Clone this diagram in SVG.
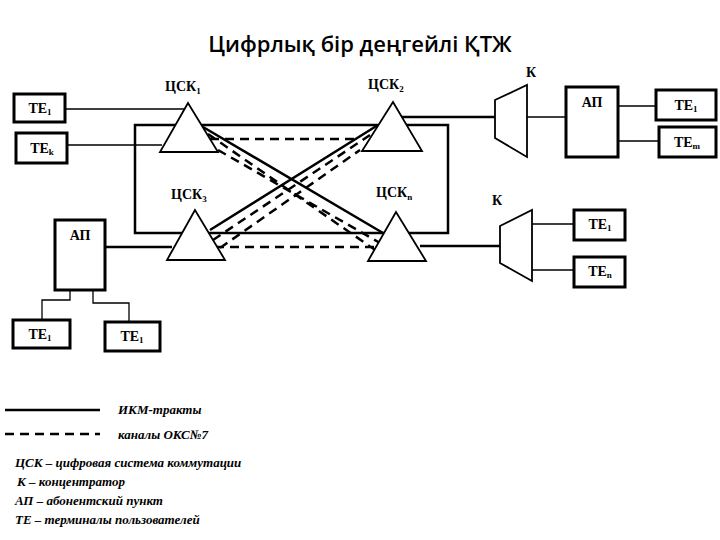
<svg xmlns="http://www.w3.org/2000/svg" width="720" height="540" viewBox="0 0 720 540">
<style>
.b{fill:#fff;stroke:#000;stroke-width:3}
.t{font-family:'Liberation Serif',serif;font-weight:bold;font-size:14px}
.s{font-size:9px}
.th{stroke:#000;stroke-width:1.3;fill:none}
.tk{stroke:#000;stroke-width:2.5;fill:none}
.d{stroke:#000;stroke-width:2.5;fill:none;stroke-dasharray:9,6}
.tri{fill:#fff;stroke:#000;stroke-width:1.8}
.lg{font-family:'Liberation Serif',serif;font-weight:bold;font-style:italic;font-size:13px}
</style>
<rect width="720" height="540" fill="#fff"/>
<text x="360" y="52" text-anchor="middle" font-family="'Open Sans',sans-serif" font-size="22" font-weight="600">Цифрлық бір деңгейлі ҚТЖ</text>
<g id="connectors">
<rect x="135" y="125" width="313" height="108" class="tk"/>
<path class="th" d="M65,109H185M67,145H162M527,117H566M618,106H656M618,141H659M532,224H574M532,270H574M70,290V300H42V320M93,290V303H129V322"/>
<path class="tk" d="M400,117H495M420,246H500M105,247H172M203,127L383,233M210,230L378,125"/>
<path class="d" d="M210,139H360M215,247H380M218,150L380,243M213,240L370,135M208,134L378,252M220,248L360,150"/>
</g>
<g id="cck1"><polygon class="tri" points="188,103 160,152 218,152"/><text class="t" x="165" y="91">ЦСК<tspan class="s" dy="3">1</tspan></text></g>
<g id="cck2"><polygon class="tri" points="393,102 362,151 422,151"/><text class="t" x="368" y="89">ЦСК<tspan class="s" dy="3">2</tspan></text></g>
<g id="cck3"><polygon class="tri" points="195,210 167,260 225,260"/><text class="t" x="171" y="199">ЦСК<tspan class="s" dy="3">3</tspan></text></g>
<g id="cckn"><polygon class="tri" points="396,212 368,261 426,261"/><text class="t" x="376" y="197">ЦСК<tspan class="s" dy="3">n</tspan></text></g>
<g id="te1a"><rect class="b" x="14" y="94" width="51" height="28"/><text class="t" x="40" y="113" text-anchor="middle">ТЕ<tspan class="s" dy="2">1</tspan></text></g>
<g id="tek"><rect class="b" x="16" y="133" width="51" height="30"/><text class="t" x="42" y="153" text-anchor="middle">ТЕ<tspan class="s" dy="2">k</tspan></text></g>
<g id="k1"><polygon class="tri" points="495,100 527,85 527,157 495,138"/><text class="t" x="526" y="77">К</text></g>
<g id="ap1"><rect class="b" x="566" y="87" width="52" height="70"/><text class="t" x="592" y="107" text-anchor="middle">АП</text></g>
<g id="te1b"><rect class="b" x="656" y="90" width="60" height="30"/><text class="t" x="686" y="110" text-anchor="middle">ТЕ<tspan class="s" dy="2">1</tspan></text></g>
<g id="tem"><rect class="b" x="659" y="127" width="57" height="30"/><text class="t" x="687" y="147" text-anchor="middle">ТЕ<tspan class="s" dy="2">m</tspan></text></g>
<g id="k2"><polygon class="tri" points="500,226 532,210 532,281 500,263"/><text class="t" x="492" y="205">К</text></g>
<g id="te1c"><rect class="b" x="574" y="210" width="51" height="30"/><text class="t" x="600" y="229" text-anchor="middle">ТЕ<tspan class="s" dy="2">1</tspan></text></g>
<g id="ten"><rect class="b" x="574" y="257" width="51" height="30"/><text class="t" x="600" y="276" text-anchor="middle">ТЕ<tspan class="s" dy="2">n</tspan></text></g>
<g id="ap2"><rect class="b" x="55" y="220" width="50" height="70"/><text class="t" x="80" y="240" text-anchor="middle">АП</text></g>
<g id="te1d"><rect class="b" x="13" y="320" width="57" height="28"/><text class="t" x="40" y="339" text-anchor="middle">ТЕ<tspan class="s" dy="2">1</tspan></text></g>
<g id="te1e"><rect class="b" x="105" y="322" width="55" height="29"/><text class="t" x="132" y="341" text-anchor="middle">ТЕ<tspan class="s" dy="2">1</tspan></text></g>
<g id="legend">
<path class="tk" d="M5,410H100"/>
<path class="d" d="M5,434H100"/>
<text class="lg" x="118" y="414">ИКМ-тракты</text>
<text class="lg" x="118" y="439">каналы ОКС№7</text>
<text class="lg" x="15" y="467">ЦСК – цифровая система коммутации</text>
<text class="lg" x="17" y="486">К – концентратор</text>
<text class="lg" x="15" y="505">АП – абонентский пункт</text>
<text class="lg" x="15" y="524">ТЕ – терминалы пользователей</text>
</g>
</svg>
